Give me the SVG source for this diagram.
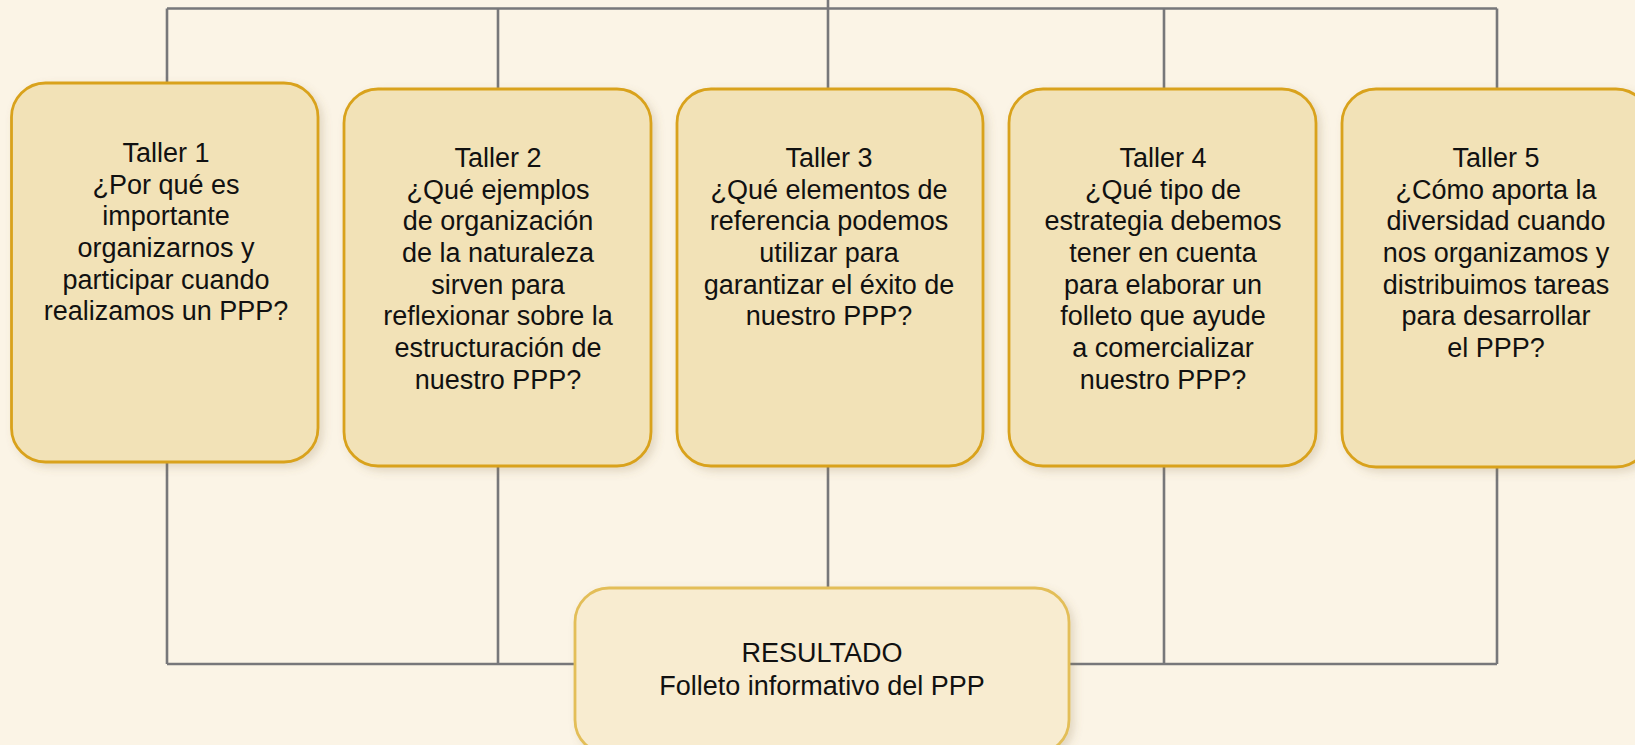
<svg xmlns="http://www.w3.org/2000/svg" width="1635" height="745" viewBox="0 0 1635 745">
<defs>
<style>
.bg{fill:#FBF4E6}
.box{fill:#F2E2B7;stroke:#D9A21B;stroke-width:2.8}
.res{fill:#F8ECD0;stroke:#E3BE58;stroke-width:2.8}
.ln{fill:none;stroke:#77777A;stroke-width:2.6}
text{font-family:"Liberation Sans",Arial,sans-serif;font-size:27px;fill:#111;text-anchor:middle}
</style>
<filter id="sh" x="-10%" y="-10%" width="130%" height="130%">
<feDropShadow dx="4" dy="4" stdDeviation="4" flood-color="#8a7040" flood-opacity="0.22"/>
</filter>
</defs>
<rect class="bg" x="0" y="0" width="1635" height="745"/>
<g id="connectors">
<path class="ln" d="M167 8.5 H1497 M828 0 V89 M167 8.5 V83 M498 8.5 V89 M1164 8.5 V89 M1497 8.5 V89"/>
<path class="ln" d="M167 664 H1497 M167 462 V664 M498 466 V664 M1164 466 V664 M1497 466 V664 M828 466 V588"/>
</g>
<g id="taller1">
<rect class="box" filter="url(#sh)" x="11.5" y="83" width="306.5" height="379" rx="34"/>
<text x="166" y="162">Taller 1</text>
<text x="166" y="194">¿Por qué es</text>
<text x="166" y="225">importante</text>
<text x="166" y="257">organizarnos y</text>
<text x="166" y="289">participar cuando</text>
<text x="166" y="320">realizamos un PPP?</text>
</g>
<g id="taller2">
<rect class="box" filter="url(#sh)" x="344" y="89" width="307" height="377" rx="34"/>
<text x="498" y="167">Taller 2</text>
<text x="498" y="199">¿Qué ejemplos</text>
<text x="498" y="230">de organización</text>
<text x="498" y="262">de la naturaleza</text>
<text x="498" y="294">sirven para</text>
<text x="498" y="325">reflexionar sobre la</text>
<text x="498" y="357">estructuración de</text>
<text x="498" y="389">nuestro PPP?</text>
</g>
<g id="taller3">
<rect class="box" filter="url(#sh)" x="677" y="89" width="306" height="377" rx="34"/>
<text x="829" y="167">Taller 3</text>
<text x="829" y="199">¿Qué elementos de</text>
<text x="829" y="230">referencia podemos</text>
<text x="829" y="262">utilizar para</text>
<text x="829" y="294">garantizar el éxito de</text>
<text x="829" y="325">nuestro PPP?</text>
</g>
<g id="taller4">
<rect class="box" filter="url(#sh)" x="1009" y="89" width="307" height="377" rx="34"/>
<text x="1163" y="167">Taller 4</text>
<text x="1163" y="199">¿Qué tipo de</text>
<text x="1163" y="230">estrategia debemos</text>
<text x="1163" y="262">tener en cuenta</text>
<text x="1163" y="294">para elaborar un</text>
<text x="1163" y="325">folleto que ayude</text>
<text x="1163" y="357">a comercializar</text>
<text x="1163" y="389">nuestro PPP?</text>
</g>
<g id="taller5">
<rect class="box" filter="url(#sh)" x="1342" y="89" width="308" height="378" rx="34"/>
<text x="1496" y="167">Taller 5</text>
<text x="1496" y="199">¿Cómo aporta la</text>
<text x="1496" y="230">diversidad cuando</text>
<text x="1496" y="262">nos organizamos y</text>
<text x="1496" y="294">distribuimos tareas</text>
<text x="1496" y="325">para desarrollar</text>
<text x="1496" y="357">el PPP?</text>
</g>
<g id="resultado">
<rect class="res" filter="url(#sh)" x="575" y="588" width="494" height="166" rx="34"/>
<text x="822" y="662">RESULTADO</text>
<text x="822" y="695">Folleto informativo del PPP</text>
</g>
</svg>
